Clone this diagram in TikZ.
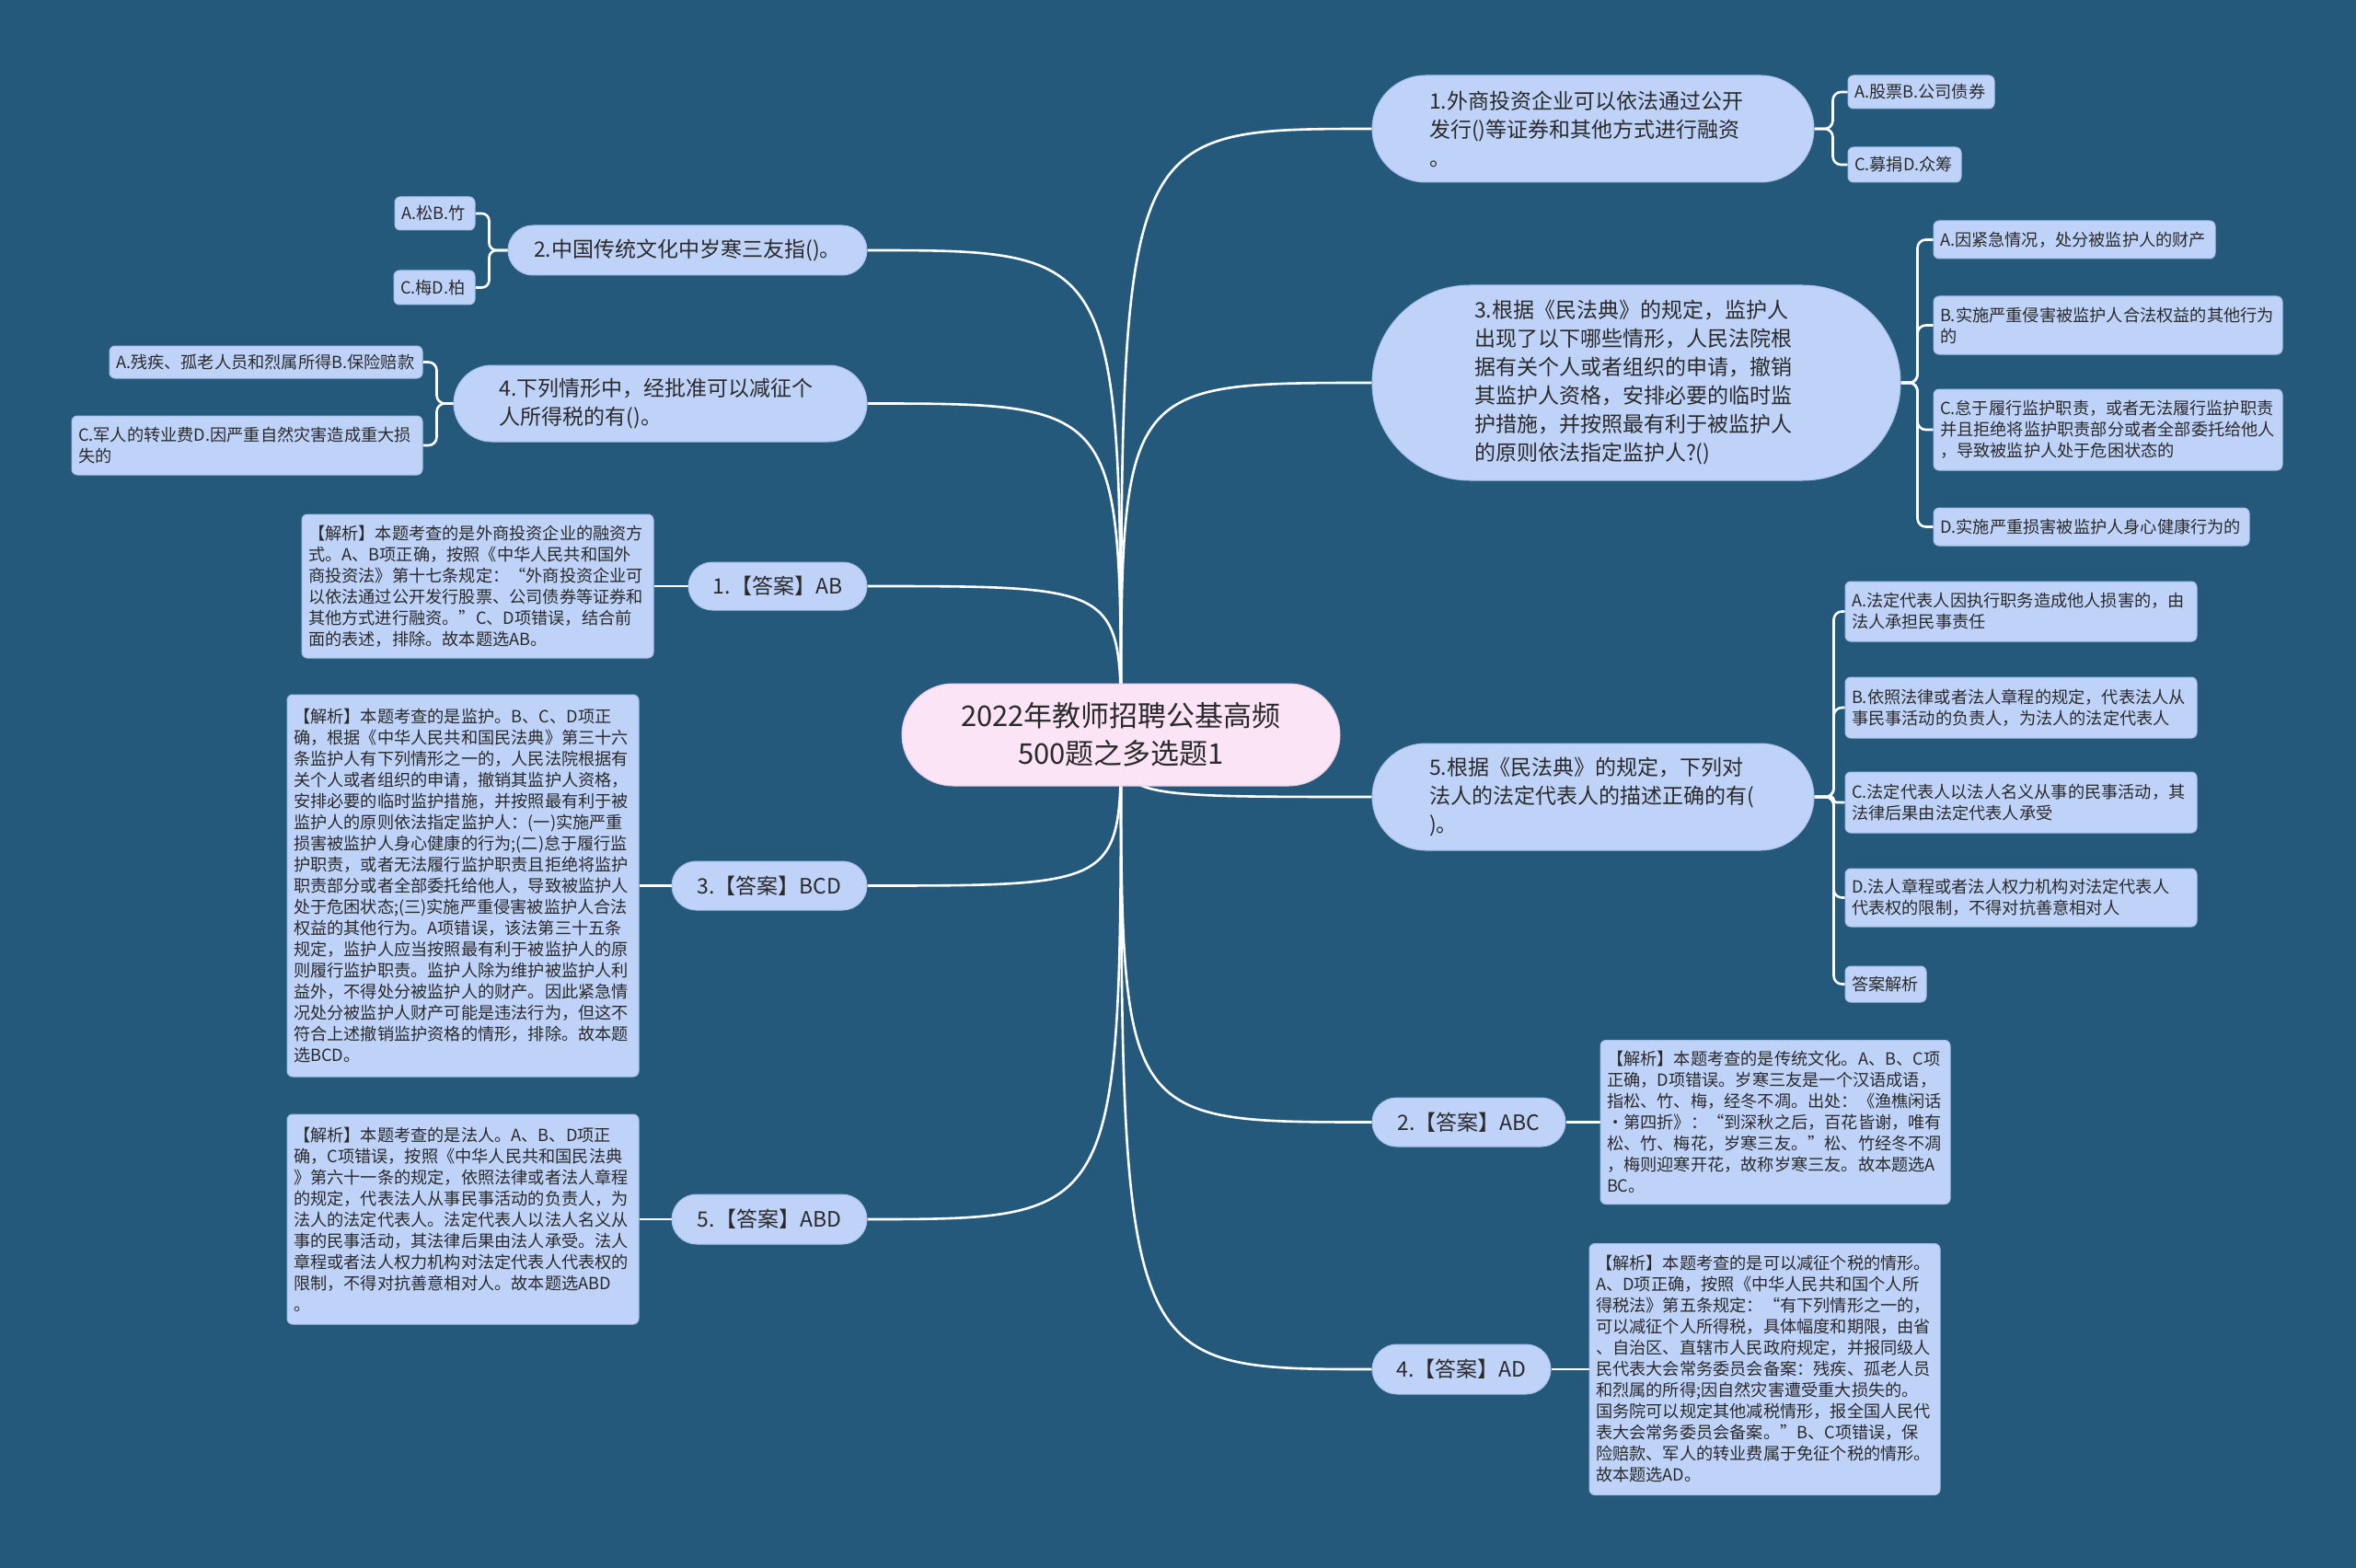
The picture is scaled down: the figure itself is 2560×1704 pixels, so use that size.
\documentclass[tikz,border=0pt]{standalone}
\usepackage{fontspec}
\setmainfont{Noto Sans CJK SC}
\usetikzlibrary{calc}
\definecolor{bgc}{HTML}{24597B}
\definecolor{nodefill}{HTML}{BFD3F9}
\definecolor{nodeline}{HTML}{A9C0EA}
\definecolor{rootfill}{HTML}{FCE4F7}
\definecolor{rootline}{HTML}{EACBE4}
\definecolor{txt}{HTML}{2A2A2A}
\pgfdeclarelayer{bg}
\pgfsetlayers{bg,main}
\begin{document}
\begin{tikzpicture}[x=1pt,y=-1pt,
  conn/.style={draw=white, line width=2.6pt},
  box/.style={fill=nodefill, draw=nodeline, line width=1pt, text=txt, inner sep=0pt},
  mq/.style={box, align=left, font=\fontsize{23}{31}\selectfont},
  ans/.style={box, align=center, font=\fontsize{23}{31}\selectfont},
  opt/.style={box, align=left, rounded corners=6pt, inner xsep=7pt, font=\fontsize{18.2}{23}\selectfont},
  rootbox/.style={fill=rootfill, draw=rootline, line width=1pt, text=txt, inner sep=0pt, align=center, font=\fontsize{31}{41}\selectfont}
]
% ---------- root ----------
\node[rootbox, rounded corners=55.5pt, minimum width=476pt, minimum height=111pt] (root) at (1218,798.5) {2022年教师招聘公基高频\\500题之多选题1};

% ---------- right side ----------
\node[mq, rounded corners=58pt, minimum width=480pt, minimum height=116pt, text width=356pt] (q1) at (1731,140) {1.外商投资企业可以依法通过公开\\发行()等证券和其他方式进行融资\\。};
\node[opt, minimum width=159pt, minimum height=36pt, text width=145pt] (o11) at (2087.5,100) {A.股票B.公司债券};
\node[opt, minimum width=123pt, minimum height=38pt, text width=109pt] (o12) at (2069.5,179) {C.募捐D.众筹};

\node[mq, rounded corners=106pt, minimum width=574pt, minimum height=212pt, text width=352pt] (q3) at (1778,416) {3.根据《民法典》的规定，监护人\\出现了以下哪些情形，人民法院根\\据有关个人或者组织的申请，撤销\\其监护人资格，安排必要的临时监\\护措施，并按照最有利于被监护人\\的原则依法指定监护人?()};
\node[opt, minimum width=306pt, minimum height=41pt, text width=292pt] (o31) at (2254,260.5) {A.因紧急情况，处分被监护人的财产};
\node[opt, minimum width=379pt, minimum height=63pt, text width=365pt] (o32) at (2290.5,353.5) {B.实施严重侵害被监护人合法权益的其他行为\\的};
\node[opt, minimum width=379pt, minimum height=88pt, text width=365pt] (o33) at (2290.5,467) {C.怠于履行监护职责，或者无法履行监护职责\\并且拒绝将监护职责部分或者全部委托给他人\\，导致被监护人处于危困状态的};
\node[opt, minimum width=343pt, minimum height=41pt, text width=329pt] (o34) at (2272.5,572.5) {D.实施严重损害被监护人身心健康行为的};

\node[mq, rounded corners=58pt, minimum width=480pt, minimum height=116pt, text width=356pt] (q5) at (1731,866) {5.根据《民法典》的规定，下列对\\法人的法定代表人的描述正确的有(\\)。};
\node[opt, minimum width=382pt, minimum height=65pt, text width=368pt] (o51) at (2196,664.5) {A.法定代表人因执行职务造成他人损害的，由\\法人承担民事责任};
\node[opt, minimum width=382pt, minimum height=66pt, text width=368pt] (o52) at (2196,769) {B.依照法律或者法人章程的规定，代表法人从\\事民事活动的负责人，为法人的法定代表人};
\node[opt, minimum width=382pt, minimum height=66pt, text width=368pt] (o53) at (2196,872) {C.法定代表人以法人名义从事的民事活动，其\\法律后果由法定代表人承受};
\node[opt, minimum width=382pt, minimum height=63pt, text width=368pt] (o54) at (2196,975.5) {D.法人章程或者法人权力机构对法定代表人\\代表权的限制，不得对抗善意相对人};
\node[opt, minimum width=88pt, minimum height=39pt, text width=74pt] (o55) at (2049,1069.5) {答案解析};

\node[ans, rounded corners=26.5pt, minimum width=210pt, minimum height=53pt] (a2) at (1596,1219.5) {2.【答案】ABC};
\node[opt, minimum width=380pt, minimum height=178pt, text width=366pt] (e2) at (1929,1219.5) {【解析】本题考查的是传统文化。A、B、C项\\正确，D项错误。岁寒三友是一个汉语成语，\\指松、竹、梅，经冬不凋。出处：《渔樵闲话\\·第四折》：“到深秋之后，百花皆谢，唯有\\松、竹、梅花，岁寒三友。”松、竹经冬不凋\\，梅则迎寒开花，故称岁寒三友。故本题选A\\BC。};

\node[ans, rounded corners=27pt, minimum width=194pt, minimum height=54pt] (a4) at (1588,1488) {4.【答案】AD};
\node[opt, minimum width=381pt, minimum height=273pt, text width=367pt] (e4) at (1917.5,1488) {【解析】本题考查的是可以减征个税的情形。\\A、D项正确，按照《中华人民共和国个人所\\得税法》第五条规定：“有下列情形之一的，\\可以减征个人所得税，具体幅度和期限，由省\\、自治区、直辖市人民政府规定，并报同级人\\民代表大会常务委员会备案：残疾、孤老人员\\和烈属的所得;因自然灾害遭受重大损失的。\\国务院可以规定其他减税情形，报全国人民代\\表大会常务委员会备案。”B、C项错误，保\\险赔款、军人的转业费属于免征个税的情形。\\故本题选AD。};

% ---------- left side ----------
\node[ans, rounded corners=27pt, minimum width=390pt, minimum height=54pt] (q2) at (747,272) {2.中国传统文化中岁寒三友指()。};
\node[opt, minimum width=87pt, minimum height=36pt, text width=73pt] (o21) at (472.5,232) {A.松B.竹};
\node[opt, minimum width=88pt, minimum height=37pt, text width=74pt] (o22) at (472,312.5) {C.梅D.柏};

\node[mq, rounded corners=41.5pt, minimum width=449pt, minimum height=83pt, text width=350pt] (q4) at (717.5,438.5) {4.下列情形中，经批准可以减征个\\人所得税的有()。};
\node[opt, minimum width=340pt, minimum height=35pt, text width=326pt] (o41) at (289,393.5) {A.残疾、孤老人员和烈属所得B.保险赔款};
\node[opt, minimum width=381pt, minimum height=64pt, text width=367pt] (o42) at (268.5,484) {C.军人的转业费D.因严重自然灾害造成重大损\\失的};

\node[ans, rounded corners=26pt, minimum width=194pt, minimum height=52pt] (a1) at (845,637) {1.【答案】AB};
\node[opt, minimum width=382pt, minimum height=156pt, text width=368pt] (e1) at (519,637) {【解析】本题考查的是外商投资企业的融资方\\式。A、B项正确，按照《中华人民共和国外\\商投资法》第十七条规定：“外商投资企业可\\以依法通过公开发行股票、公司债券等证券和\\其他方式进行融资。”C、D项错误，结合前\\面的表述，排除。故本题选AB。};

\node[ans, rounded corners=26.5pt, minimum width=212pt, minimum height=53pt] (a3) at (836,962.5) {3.【答案】BCD};
\node[opt, minimum width=382pt, minimum height=415pt, text width=368pt] (e3) at (503,962.5) {【解析】本题考查的是监护。B、C、D项正\\确，根据《中华人民共和国民法典》第三十六\\条监护人有下列情形之一的，人民法院根据有\\关个人或者组织的申请，撤销其监护人资格，\\安排必要的临时监护措施，并按照最有利于被\\监护人的原则依法指定监护人：(一)实施严重\\损害被监护人身心健康的行为;(二)怠于履行监\\护职责，或者无法履行监护职责且拒绝将监护\\职责部分或者全部委托给他人，导致被监护人\\处于危困状态;(三)实施严重侵害被监护人合法\\权益的其他行为。A项错误，该法第三十五条\\规定，监护人应当按照最有利于被监护人的原\\则履行监护职责。监护人除为维护被监护人利\\益外，不得处分被监护人的财产。因此紧急情\\况处分被监护人财产可能是违法行为，但这不\\符合上述撤销监护资格的情形，排除。故本题\\选BCD。};

\node[ans, rounded corners=27pt, minimum width=212pt, minimum height=54pt] (a5) at (836,1325) {5.【答案】ABD};
\node[opt, minimum width=382pt, minimum height=228pt, text width=368pt] (e5) at (503,1325) {【解析】本题考查的是法人。A、B、D项正\\确，C项错误，按照《中华人民共和国民法典\\》第六十一条的规定，依照法律或者法人章程\\的规定，代表法人从事民事活动的负责人，为\\法人的法定代表人。法定代表人以法人名义从\\事的民事活动，其法律后果由法人承受。法人\\章程或者法人权力机构对法定代表人代表权的\\限制，不得对抗善意相对人。故本题选ABD\\。};

% ---------- background + connectors ----------
\begin{pgfonlayer}{bg}
\fill[bgc] (0,0) rectangle (2560,1704);
% main curves
\foreach \n in {q1,q3,q5,a2,a4}
  \draw[conn] (root.center) .. controls (root.center |- \n.west) .. (\n.west);
\foreach \n in {q2,q4,a1,a3,a5}
  \draw[conn] (root.center) .. controls (root.center |- \n.east) .. (\n.east);
% brackets right
\foreach \n in {o11,o12}
  \draw[conn, rounded corners=9pt] (q1.east) -- ++(20,0) |- (\n.west);
\foreach \n in {o31,o32,o33,o34}
  \draw[conn, rounded corners=9pt] (q3.east) -- ++(18,0) |- (\n.west);
\foreach \n in {o51,o52,o54,o55}
  \draw[conn, rounded corners=9pt] (q5.east) -- ++(21,0) |- (\n.west);
\draw[conn, rounded corners=3pt] (q5.east) -- ++(21,0) |- (o53.west);
% brackets left
\foreach \n in {o21,o22}
  \draw[conn, rounded corners=8pt] (q2.west) -- ++(-20,0) |- (\n.east);
\foreach \n in {o41,o42}
  \draw[conn, rounded corners=9pt] (q4.west) -- ++(-18,0) |- (\n.east);
% answer to explanation
\draw[conn] (a1.west) -- (e1.east);
\draw[conn] (a3.west) -- (e3.east);
\draw[conn] (a5.west) -- (e5.east);
\draw[conn] (a2.east) -- (e2.west);
\draw[conn] (a4.east) -- (e4.west);
\end{pgfonlayer}
\end{tikzpicture}
\end{document}
